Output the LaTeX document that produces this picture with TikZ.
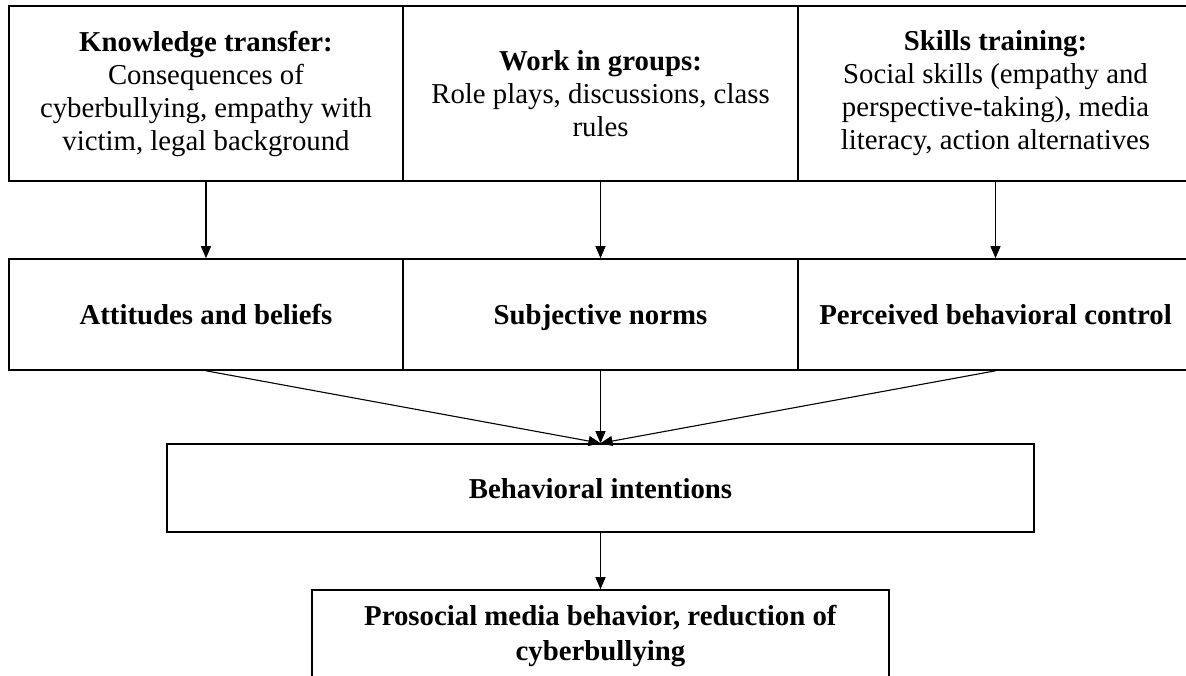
\documentclass[tikz,border=0pt]{standalone}
\usepackage{fontspec}
\setmainfont{Liberation Serif}
\usetikzlibrary{arrows.meta}
\begin{document}
\begin{tikzpicture}[x=1pt,y=-1pt,
  box/.style={draw=black, line width=1.6pt, inner sep=0pt, align=center,
    font=\fontsize{28.8}{33}\selectfont},
  oneline/.style={text height=20pt, text depth=0pt},
  arr/.style={draw=black, line width=1.1pt, -{Triangle[length=12pt,width=10pt]}}]
\useasboundingbox (0,0) rectangle (1186,675);
\clip (0,0) rectangle (1186,675);
% top row
\node[box, minimum width=394pt, minimum height=175pt] (kt) at (206,93.5)
  {\textbf{Knowledge transfer:}\\Consequences of\\cyberbullying, empathy with\\victim, legal background};
\node[box, minimum width=395pt, minimum height=175pt] (wg) at (600.5,93.5)
  {\textbf{Work in groups:}\\Role plays, discussions, class\\rules};
\node[box, minimum width=395pt, minimum height=175pt] (st) at (995.5,93.5)
  {\textbf{Skills training:}\\Social skills (empathy and\\perspective-taking), media\\literacy, action alternatives};
% middle row
\node[box, oneline, minimum width=394pt, minimum height=111pt] (ab) at (206,314.5)
  {\textbf{Attitudes and beliefs}};
\node[box, oneline, minimum width=395pt, minimum height=111pt] (sn) at (600.5,314.5)
  {\textbf{Subjective norms}};
\node[box, oneline, minimum width=395pt, minimum height=111pt] (pb) at (995.5,314.5)
  {\textbf{Perceived behavioral control}};
% behavioral intentions
\node[box, oneline, minimum width=867pt, minimum height=88pt] (bi) at (600.5,488)
  {\textbf{Behavioral intentions}};
% outcome
\node[box, minimum width=577pt, minimum height=91.3pt, font=\fontsize{28.8}{35}\selectfont] (pm) at (600.5,635.65)
  {\textbf{Prosocial media behavior, reduction of}\\\textbf{cyberbullying}};
% arrows
\draw[arr] (kt.south) -- (ab.north);
\draw[arr] (wg.south) -- (sn.north);
\draw[arr] (st.south) -- (pb.north);
\draw[arr] (ab.south) -- (bi.north);
\draw[arr] (sn.south) -- (bi.north);
\draw[arr] (pb.south) -- (bi.north);
\draw[arr] (bi.south) -- (pm.north);
\end{tikzpicture}
\end{document}
